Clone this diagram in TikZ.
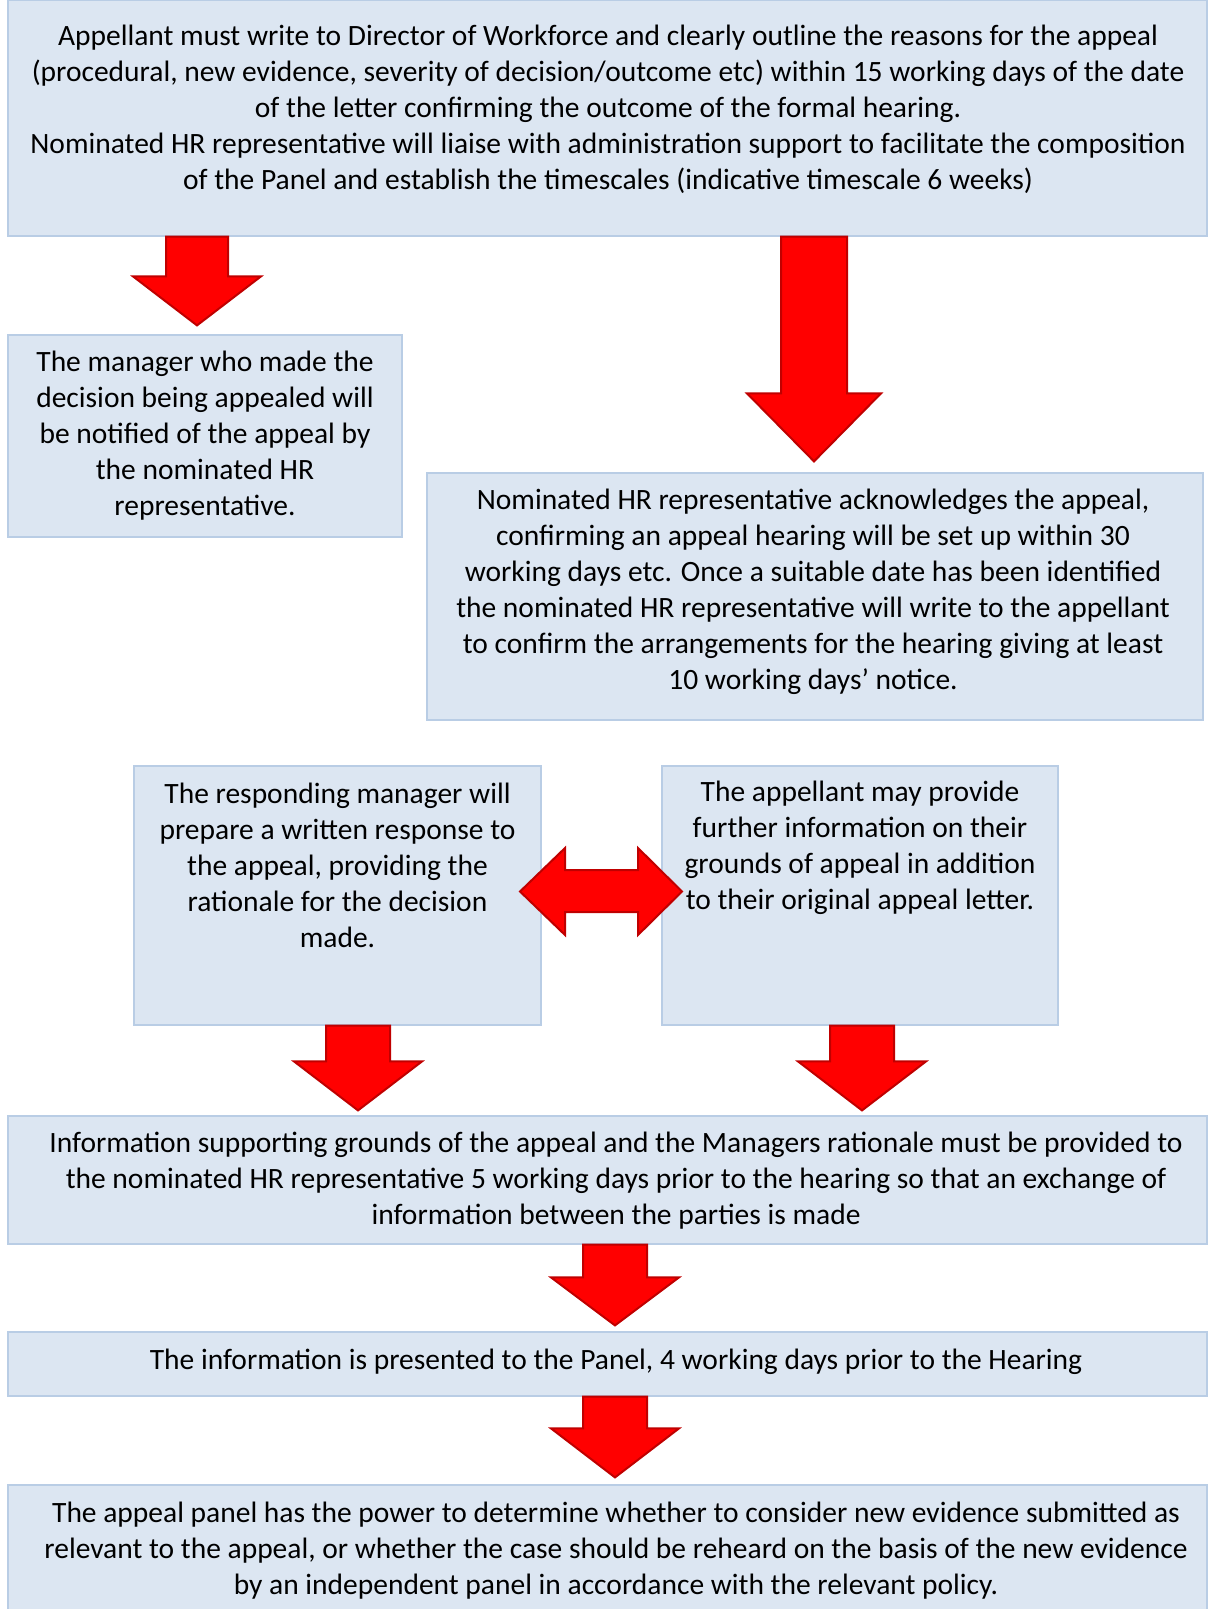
\documentclass[tikz,border=0pt]{standalone}
\usepackage{fontspec}
\setmainfont{Carlito}
\usetikzlibrary{calc}

\definecolor{boxfill}{HTML}{DCE6F2}
\definecolor{boxline}{HTML}{B9CDE5}
\definecolor{arrowline}{HTML}{C00000}

% block arrow pointing down: x, from node, to node, shaft half, head half, head length, gap
\newcommand{\redarrow}[7]{%
  \coordinate (ax) at (#1,0);
  \filldraw[redarr] let \p1=(#2.south -| ax), \p2=(#3.north -| ax) in
    (\x1-#4,\y1) -- (\x1-#4,\y2+#7+#6) -- (\x1-#5,\y2+#7+#6) -- (\x1,\y2+#7)
    -- (\x1+#5,\y2+#7+#6) -- (\x1+#4,\y2+#7+#6) -- (\x1+#4,\y1) -- cycle;
}

\begin{document}
\begin{tikzpicture}[x=0.5pt,y=-0.5pt,
  box/.style={draw=boxline, fill=boxfill, line width=0.6pt, inner sep=0pt},
  txt/.style={align=center, inner sep=0pt, font=\fontsize{14.75}{18}\selectfont},
  redarr/.style={fill=red, draw=arrowline, line width=1pt, line join=miter}]
	\useasboundingbox (0,0) rectangle (1207,1609);

	% boxes
	\node[box, minimum width=599.5pt, minimum height=118pt] (b1) at (607.5,118) {};
	\node[box, minimum width=197pt, minimum height=101pt] (b2) at (205,436) {};
	\node[box, minimum width=388pt, minimum height=123.5pt] (b3) at (815,596.5) {};
	\node[box, minimum width=203.5pt, minimum height=129.5pt] (b4) at (337.5,895.5) {};
	\node[box, minimum width=198pt, minimum height=129.5pt] (b5) at (860,895.5) {};
	\node[box, minimum width=599.5pt, minimum height=64pt] (b6) at (607.5,1180) {};
	\node[box, minimum width=599.5pt, minimum height=32pt] (b7) at (607.5,1364) {};
	\node[box, minimum width=599.5pt, minimum height=66pt] (b8) at (607.5,1551) {};

	% arrows
	\redarrow{197}{b1}{b2}{15.5pt}{32pt}{24.5pt}{4.5pt}
	\redarrow{814}{b1}{b3}{16.5pt}{33.5pt}{34pt}{5.5pt}
	\redarrow{358}{b4}{b6}{16pt}{32pt}{24.5pt}{2.5pt}
	\redarrow{862}{b5}{b6}{16pt}{32pt}{24.5pt}{2.5pt}
	\redarrow{615}{b6}{b7}{16pt}{32pt}{24pt}{3pt}
	\redarrow{615}{b7}{b8}{16pt}{32pt}{24.5pt}{3.5pt}
	\filldraw[redarr] (520,891.5) -- (565,848) -- (565,870) -- (638,870) -- (638,848)
		-- (682,891.5) -- (638,935) -- (638,912) -- (565,912) -- (565,935) -- cycle;

	% texts
	\node[txt] (t1) at (608,109) {Appellant must write to Director of Workforce and clearly outline the reasons for the appeal\\
		(procedural, new evidence, severity of decision/outcome etc) within 15 working days of the date\\
		of the letter confirming the outcome of the formal hearing.\\
		Nominated HR representative will liaise with administration support to facilitate the composition\\
		of the Panel and establish the timescales (indicative timescale 6 weeks)};
	\node[txt] (t2) at (205,436) {The manager who made the\\ decision being appealed will\\ be notified of the appeal by\\ the nominated HR\\ representative.};
	\node[txt] (t3) at (813,592) {Nominated HR representative acknowledges the appeal,\\
		confirming an appeal hearing will be set up within 30\\
		working days etc. Once a suitable date has been identified\\
		the nominated HR representative will write to the appellant\\
		to confirm the arrangements for the hearing giving at least\\
		10 working days’ notice.};
	\node[txt] (t4) at (337.5,865.5) {The responding manager will\\ prepare a written response to\\ the appeal, providing the\\ rationale for the decision\\ made.};
	\node[txt] (t5) at (860,848) {The appellant may provide\\ further information on their\\ grounds of appeal in addition\\ to their original appeal letter.};
	\node[txt] (t6) at (616,1181) {Information supporting grounds of the appeal and the Managers rationale must be provided to\\
		the nominated HR representative 5 working days prior to the hearing so that an exchange of\\
		information between the parties is made};
	\node[txt] (t7) at (616,1362) {The information is presented to the Panel, 4 working days prior to the Hearing};
	\node[txt] (t8) at (616,1551) {The appeal panel has the power to determine whether to consider new evidence submitted as\\
		relevant to the appeal, or whether the case should be reheard on the basis of the new evidence\\
		by an independent panel in accordance with the relevant policy.};
\end{tikzpicture}
\end{document}
